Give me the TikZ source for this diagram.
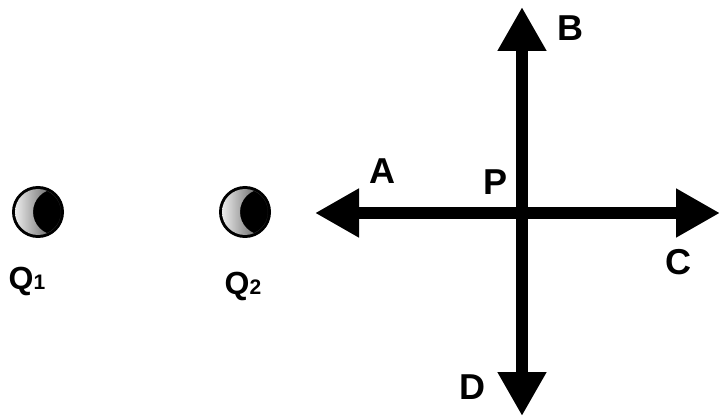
\documentclass[tikz,border=0pt]{standalone}
\usepackage{fontspec}
\setmainfont{Liberation Sans}
\usepackage{tikz}
\usetikzlibrary{positioning,arrows.meta}
\tikzset{
  charge-ball/.style={circle,fill=black,minimum size=52pt,inner sep=0pt},
  pt-label/.style={inner sep=0pt,font=\fontsize{36}{36}\selectfont\bfseries},
  charge-label/.style={inner sep=0pt,font=\fontsize{32}{32}\selectfont\bfseries},
  arrow-force/.style={-{Triangle[length=44pt,width=46pt]},line width=12pt},
}
\newcommand{\subdigit}[1]{\raisebox{0pt}{\fontsize{21}{21}\selectfont #1}}

\begin{document}
\begin{tikzpicture}[x=1pt,y=-1pt]
  \useasboundingbox (0,0) rectangle (721,417);
  % point P and the four arrow ends
  \coordinate (p) at (522,213);
  \coordinate (end-a) at (315,213);
  \coordinate (end-b) at (522,7);
  \coordinate (end-c) at (720,213);
  \coordinate (end-d) at (522,416);
  \draw[arrow-force] (p) -- (end-a);
  \draw[arrow-force] (p) -- (end-b);
  \draw[arrow-force] (p) -- (end-c);
  \draw[arrow-force] (p) -- (end-d);
  % charges
  \node[charge-ball] (q1) at (38,212) {};
  \node[charge-ball] (q2) at (245,212) {};
  \foreach \q in {q1,q2}{
    \begin{scope}[shift={(\q.center)}]
      \clip (0,0) circle (23);
      \shade[even odd rule,left color=gray!15,right color=black]
        (0,0) circle (23) (18,0) circle (23);
    \end{scope}
  }
  % labels
  \node[pt-label] (lbl-a) at (382,171) {A};
  \node[pt-label] (lbl-p) at (496,182) {P};
  \node[pt-label] (lbl-b) at (570,28) {B};
  \node[pt-label] (lbl-c) at (678,262) {C};
  \node[pt-label] (lbl-d) at (472,387) {D};
  \node[charge-label] (lbl-q1) at (27,281) {Q\subdigit{1}};
  \node[charge-label] (lbl-q2) at (243,286) {Q\subdigit{2}};
\end{tikzpicture}
\end{document}
